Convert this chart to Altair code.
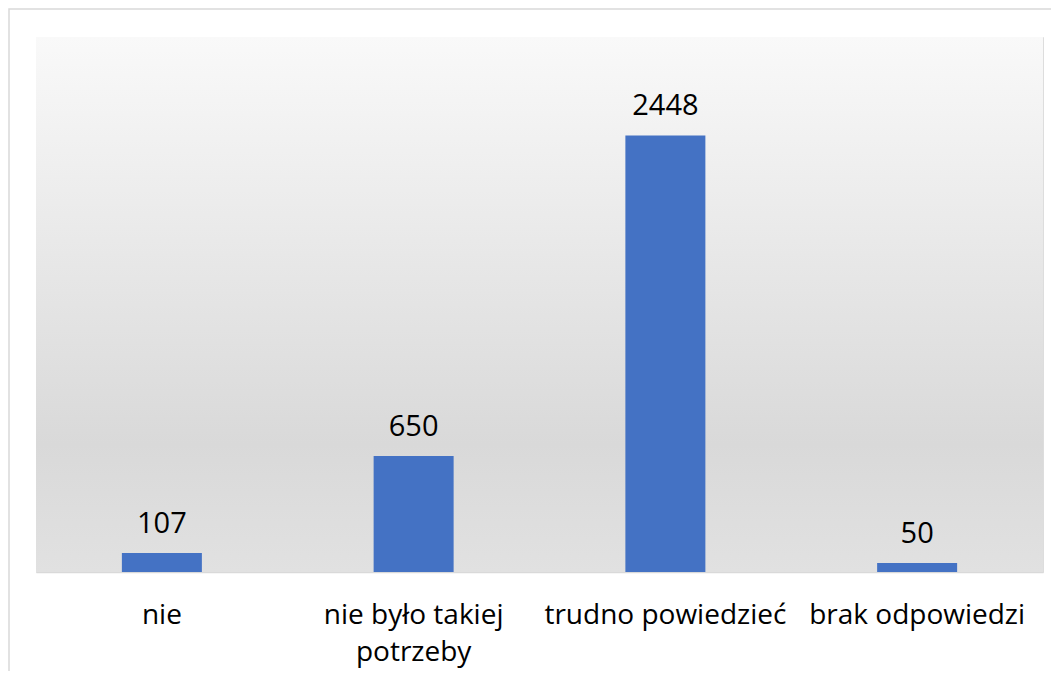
import altair as alt
import pandas as pd

categories = ["nie", "nie było takiej\npotrzeby", "trudno powiedzieć", "brak odpowiedzi"]
values = [107, 650, 2448, 50]

df = pd.DataFrame({"cat": categories, "val": values})

W, H = 1007, 535
FONT = "Open Sans"

bg = alt.Chart(pd.DataFrame({"a": [0]})).mark_rect(
    color=alt.Gradient(
        gradient="linear", x1=0, x2=0, y1=0, y2=1,
        stops=[
            alt.GradientStop(color="#F9F9F9", offset=0),
            alt.GradientStop(color="#D9D9D9", offset=0.76),
            alt.GradientStop(color="#E1E1E1", offset=1),
        ],
    )
).encode(x=alt.value(0), x2=alt.value(W), y=alt.value(0), y2=alt.value(H))

border = alt.Chart(pd.DataFrame({"a": [0]})).mark_rect(
    fill=None, stroke="#D9D9D9", strokeWidth=1.5
).encode(x=alt.value(-27), x2=alt.value(W + 40), y=alt.value(-28), y2=alt.value(H + 200))

base = alt.Chart(df).encode(
    x=alt.X("cat:N", sort=categories, title=None,
            scale=alt.Scale(paddingInner=0.68, paddingOuter=0.34),
            axis=alt.Axis(labelAngle=0, labelFont=FONT, labelFontSize=28, labelColor="#000000",
                          labelPadding=29, labelLineHeight=37, ticks=False, domainColor="#D9D9D9",
                          domainWidth=1.5, labelLimit=400,
                          labelExpr="split(datum.label, '\\n')")),
    y=alt.Y("val:Q", scale=alt.Scale(domain=[0, 3000]), axis=None),
)

bars = base.mark_bar(color="#4472C4", size=80)
labels = base.mark_text(baseline="alphabetic", dy=-20, font=FONT, fontSize=29, color="#000000").encode(
    text="val:Q")

chart = alt.layer(bg, border, bars, labels).properties(
    width=W, height=H,
    autosize=alt.AutoSizeParams(type="none"),
    padding={"left": 28, "top": 29, "right": 8, "bottom": 99},
).configure_view(stroke=None).configure(background="#FFFFFF")

chart.save("out.html", embed_options={"renderer": "svg", "actions": False})
